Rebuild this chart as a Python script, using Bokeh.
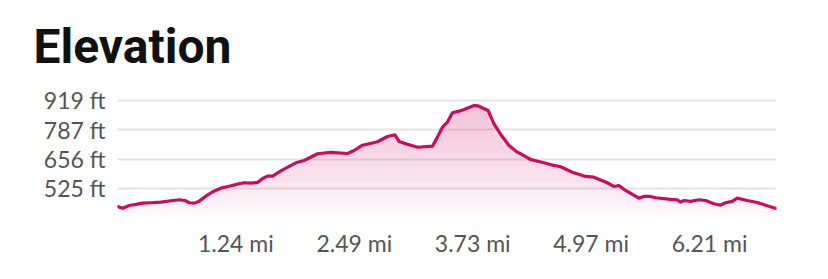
import numpy as np
from bokeh.plotting import figure
from bokeh.models import FixedTicker, Range1d
from bokeh.embed import file_html
from bokeh.resources import INLINE

# distance along route (km) and elevation (m)
distance_km = [0.0, 0.088, 0.199, 0.312, 0.425, 0.565, 0.734, 0.903, 1.043, 1.139,
               1.212, 1.296, 1.381, 1.494, 1.607, 1.747, 1.887, 2.029, 2.140, 2.253,
               2.366, 2.451, 2.535, 2.619, 2.759, 3.013, 3.153, 3.379, 3.603, 3.885,
               3.997, 4.138, 4.250, 4.392, 4.560, 4.684, 4.756, 4.898, 5.067, 5.320,
               5.404, 5.489, 5.573, 5.657, 5.769, 5.853, 6.022, 6.106, 6.258, 6.359,
               6.473, 6.613, 6.754, 6.810, 6.979, 7.203, 7.372, 7.485, 7.683, 7.907,
               8.047, 8.273, 8.385, 8.469, 8.582, 8.807, 8.891, 9.004, 9.089, 9.342,
               9.455, 9.511, 9.566, 9.679, 9.819, 9.932, 10.073, 10.186, 10.270, 10.383,
               10.468, 10.636, 10.805, 10.945, 11.085, 11.131]
elevation_m = [135.5, 133.1, 136.8, 138.2, 140.0, 140.5, 141.3, 143.2, 144.6, 143.6,
               140.5, 140.0, 142.7, 149.5, 155.5, 160.4, 163.1, 165.9, 167.8, 167.2,
               168.2, 173.6, 176.8, 176.8, 183.9, 195.0, 198.2, 207.3, 209.1, 207.7,
               211.8, 219.0, 221.0, 223.7, 230.9, 233.2, 224.1, 220.3, 216.2, 217.7,
               230.0, 243.6, 250.4, 263.2, 265.4, 267.7, 273.2, 272.2, 266.4, 248.2,
               233.6, 218.6, 209.5, 207.3, 199.5, 195.0, 191.4, 189.6, 182.2, 176.4,
               175.4, 167.8, 162.7, 164.1, 157.3, 146.8, 149.1, 149.1, 147.3, 145.0,
               144.6, 141.3, 143.6, 142.3, 144.6, 143.6, 139.1, 137.2, 140.5, 142.3,
               146.8, 143.6, 140.9, 137.2, 133.7, 132.7]

y_ticks = [160, 200, 240, 280]
y_labels = ["525 ft", "656 ft", "787 ft", "919 ft"]
x_ticks = [2, 4, 6, 8, 10]
x_labels = ["1.24 mi", "2.49 mi", "3.73 mi", "4.97 mi", "6.21 mi"]

LINE = "#cc0b5f"
Y0, Y1 = 116.3, 293.6

p = figure(width=828, height=279, output_backend="svg", toolbar_location=None,
           x_range=Range1d(0, distance_km[-1]), y_range=Range1d(Y0, Y1),
           min_border_left=117, min_border_right=52, min_border_top=90,
           min_border_bottom=59, title="Elevation")
p.outline_line_color = None
p.background_fill_color = "white"
p.border_fill_color = "white"

p.title.text_font = "Roboto"
p.title.text_font_size = "48px"
p.title.text_font_style = "bold"
p.title.text_color = "#111111"
p.title.align = "left"
p.title.offset = -84
p.title.standoff = 31

# gradient fill via horizontal bands
x = np.array(distance_km)
y = np.array(elevation_m)
px_per_m = 130.0 / (Y1 - Y0)
step = 2.0 / px_per_m
edges = np.arange(Y0, 285 + step, step)
for lo, hi in zip(edges[:-1], edges[1:]):
    mid = 0.5 * (lo + hi)
    t = max(0.0, (mid - Y0) / (280 - Y0))
    a = min(0.27 * t ** 0.85, 0.3)
    top = np.clip(y, lo, hi)
    p.varea(x=x, y1=np.full_like(x, lo), y2=top, fill_color=LINE, fill_alpha=a)

p.line(distance_km, elevation_m, line_color=LINE, line_width=3.2,
       line_join="round", line_cap="round")

p.xgrid.grid_line_color = None
p.ygrid.grid_line_color = "#e3e3e3"
p.ygrid.grid_line_width = 2
p.ygrid.ticker = FixedTicker(ticks=y_ticks)

p.yaxis.ticker = FixedTicker(ticks=y_ticks)
p.yaxis.major_label_overrides = {t: l for t, l in zip(y_ticks, y_labels)}
p.xaxis.ticker = FixedTicker(ticks=x_ticks)
p.xaxis.major_label_overrides = {t: l for t, l in zip(x_ticks, x_labels)}
for ax in (p.xaxis[0], p.yaxis[0]):
    ax.axis_line_color = None
    ax.major_tick_line_color = None
    ax.minor_tick_line_color = None
    ax.major_tick_out = 0
    ax.major_tick_in = 0
    ax.major_label_text_font = "Lato"
    ax.major_label_text_font_size = "23px"
    ax.major_label_text_color = "#555555"
p.yaxis.major_label_standoff = 12
p.xaxis.major_label_standoff = 8

open("out.html", "w").write(file_html(p, INLINE))
